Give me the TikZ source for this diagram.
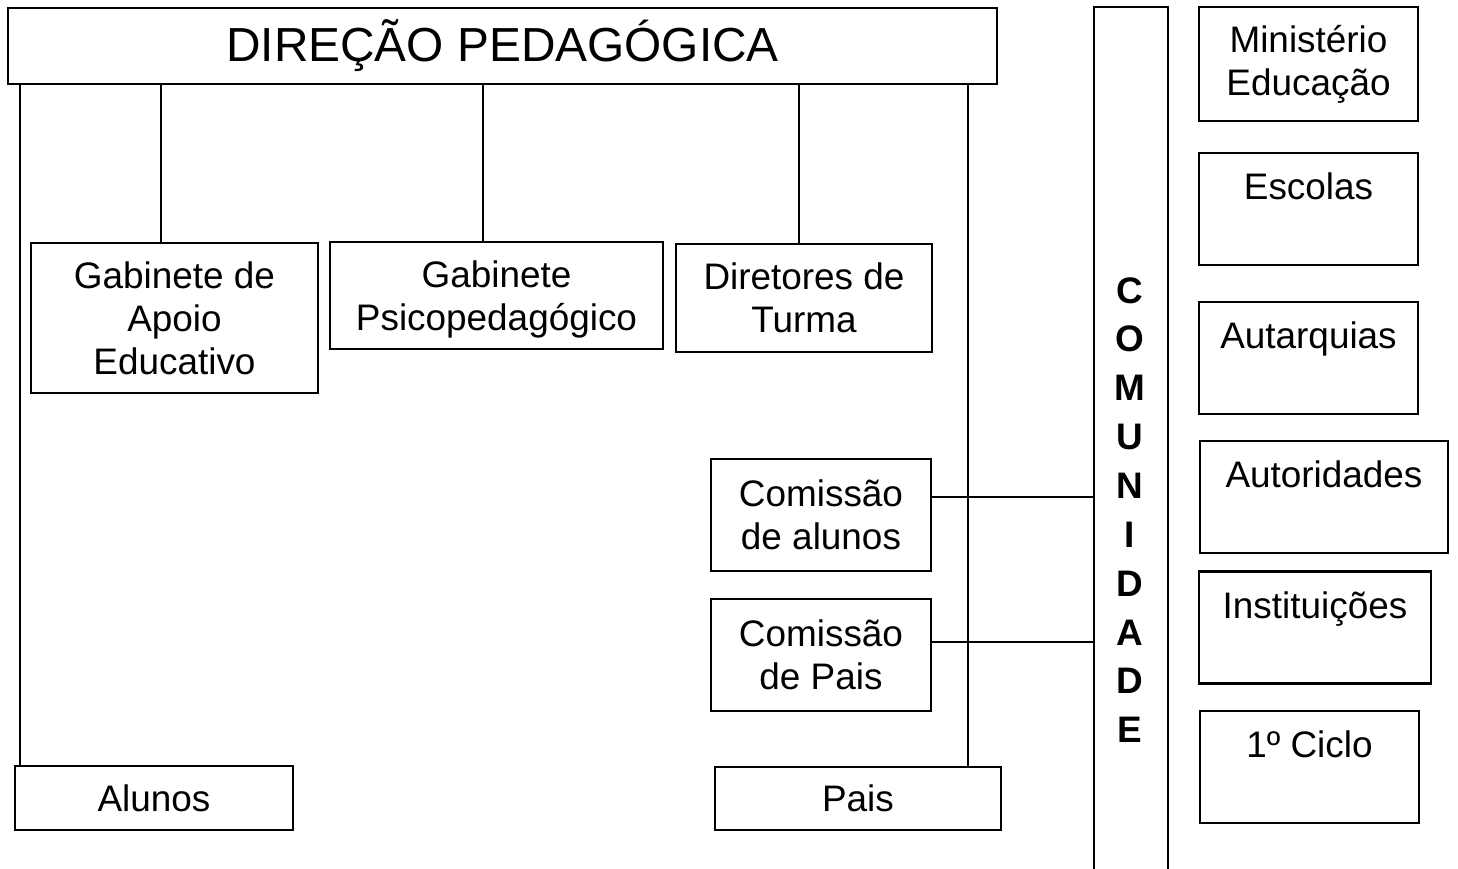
\documentclass[tikz,border=0pt]{standalone}
\usepackage{fontspec}
\setmainfont{Liberation Sans}
\usepackage{tikz}
\usetikzlibrary{calc, positioning}
\tikzset{
  every path/.style={line width=0.6pt},
  orgbox/.style={draw,line width=0.6pt,inner sep=0pt,align=center,
    font=\fontsize{10.5}{12.2}\selectfont},
  topbox/.style={draw,line width=0.6pt,inner sep=0pt,align=center,
    text height=4.7mm,text depth=6.5mm,
    font=\fontsize{10.5}{12.2}\selectfont},
  comtext/.style={inner sep=0pt,align=center,
    font=\fontsize{10.5}{13.9}\selectfont\bfseries},
  link/.style={draw,line width=0.6pt}
}

\begin{document}
\begin{tikzpicture}[x=0.1mm,y=-0.1mm]
  \useasboundingbox (0,0) rectangle (1458,869);

  % Direcao
  \node[orgbox,minimum width=98.9mm,minimum height=7.6mm,
    font=\fontsize{13.6}{16}\selectfont] at (502.5,46) (dir){DIREÇÃO PEDAGÓGICA};

  % Gabinetes
  \node[orgbox,minimum width=28.7mm,minimum height=15mm] at (174.5,318) (gae){Gabinete de\\Apoio\\Educativo};
  \node[orgbox,minimum width=33.3mm,minimum height=10.7mm,text depth=0pt] at (496.5,295.5) (gp){Gabinete\\Psicopedagógico};
  \node[orgbox,minimum width=25.6mm,minimum height=10.8mm] at (804,298) (dt){Diretores de\\Turma};

  % Comissoes
  \node[orgbox,minimum width=22mm,minimum height=11.2mm] at (821,515) (ca){Comissão\\de alunos};
  \node[orgbox,minimum width=22mm,minimum height=11.2mm] at (821,655) (cp){Comissão\\de Pais};

  % Alunos e pais
  \node[orgbox,minimum width=27.8mm,minimum height=6.4mm] at (154,798) (alunos){Alunos};
  \node[orgbox,minimum width=28.6mm,minimum height=6.3mm] at (858,798.5) (pais){Pais};

  % Comunidade
  \node[comtext] at (1130,510) (com){C\\O\\M\\U\\N\\I\\D\\A\\D\\E};
  \coordinate (comw) at (1094,7);
  \coordinate (come) at (1168,7);
  \draw (comw |- 0,869) -- (comw) -- (come) -- (come |- 0,869);

  % Exterior
  \node[orgbox,minimum width=21.9mm,minimum height=11.4mm] at (1308.5,64) (min){Ministério\\Educação};
  \node[topbox,minimum width=21.9mm] at (1308.5,209) (esc){Escolas};
  \node[topbox,minimum width=21.9mm] at (1308.5,358) (aut){Autarquias};
  \node[topbox,minimum width=24.8mm] at (1324,497) (autor){Autoridades};
  \node[topbox,minimum width=23.2mm] at (1315,627.5) (inst){Instituições};
  \node[topbox,minimum width=21.9mm] at (1309.5,767) (ciclo){1º Ciclo};

  % ligacoes
  \draw[link] (dir.south -| 20,0) -- (alunos.north -| 20,0);
  \draw[link] (dir.south -| 161,0) -- (gae.north -| 161,0);
  \draw[link] (dir.south -| 483,0) -- (gp.north -| 483,0);
  \draw[link] (dir.south -| 799,0) -- (dt.north -| 799,0);
  \draw[link] (dir.south -| 968,0) -- (pais.north -| 968,0);
  \draw[link] (ca.east |- 0,497) -- (comw |- 0,497);
  \draw[link] (cp.east |- 0,642) -- (comw |- 0,642);
\end{tikzpicture}
\end{document}
